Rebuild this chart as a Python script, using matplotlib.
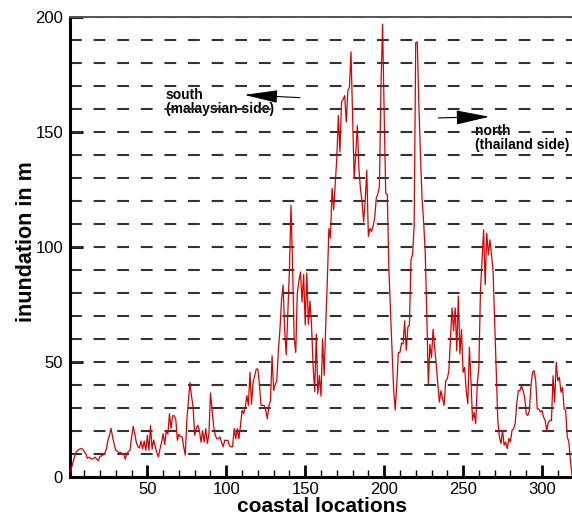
import numpy as np
import matplotlib
matplotlib.use('Agg')
import matplotlib.pyplot as plt

plt.rcParams['font.family'] = ['Liberation Sans', 'DejaVu Sans']
plt.rcParams['lines.scale_dashes'] = False

# inundation, one value per coastal location (1..319)
inundation = [
    2, 4, 6.5, 9, 10.8, 11.5, 12, 12.2, 12, 11,
    10, 8, 8.5, 8, 7.6, 8, 8.5, 7.5, 7, 8.9,
    9, 9.5, 10, 12, 15.8, 18, 21, 17.3, 14, 11.5,
    11, 10.5, 10.5, 10, 10, 7.6, 10, 11, 11.5, 17,
    21.9, 18.7, 15, 13, 12.5, 15.5, 12, 15.5, 11.5, 18,
    11.5, 22.3, 12, 16, 13, 10.5, 8.6, 12, 15, 18.7,
    14, 20, 18.5, 27.4, 21, 26.5, 26.5, 25, 15.8, 18.5,
    17.5, 17.3, 13, 9.4, 24.5, 33, 41, 35, 30, 18,
    21, 22.3, 20, 15, 20, 15, 20.9, 14.5, 18.5, 36.4,
    28.8, 22, 18, 16.5, 16.5, 17.3, 15, 13, 15.8, 15.8,
    15.8, 13.5, 13, 13, 20.9, 16.5, 20.9, 16.5, 22.3, 28.8,
    27.5, 30, 35.3, 31, 45.4, 31.5, 41, 44, 46.8, 46.8,
    40, 31, 31, 31, 28.8, 25.2, 31, 33, 52.6, 37.5,
    40, 41.8, 55, 64, 77, 83.3, 63.4, 53, 72, 90,
    118, 90.7, 60.5, 54, 80, 85, 89, 76, 88, 66,
    88.6, 66.3, 76.4, 66, 48, 37, 62, 36, 44, 35,
    60, 44, 66, 85, 108, 103.7, 125.4, 116, 127, 138.3,
    157, 141.2, 162.8, 164, 165.7, 154.2, 167.8, 169.3, 184.7, 158,
    129.7, 140, 152.7, 134, 125, 119.6, 110.9, 120, 133.3, 104.5,
    108, 106.6, 109, 112.4, 121, 123, 126.1, 170, 196.7, 158.5,
    123.2, 122.8, 90, 72, 55, 38, 29, 40, 54, 54,
    58, 57.7, 67.7, 55, 65, 66, 94.4, 96.5, 108.8, 188.7,
    189, 161.4, 140, 121, 110.9, 98, 71, 40.4, 57.6, 51.8,
    64.1, 56.2, 49, 40.3, 32.4, 37.4, 34, 31, 41.8, 42.5,
    46.1, 60, 73.4, 63.4, 73.4, 54.7, 78.5, 53.3, 64.1, 45.4,
    47.5, 37.4, 31.7, 56.2, 41.8, 24.5, 28, 23, 40.3, 47.5,
    80.7, 93.6, 107.3, 83.5, 105.9, 96.5, 103, 96.5, 89.3, 67.7,
    47.5, 24.5, 17.3, 14.4, 20.1, 13.7, 15.1, 12.2, 16.6, 15.1,
    20.1, 20.9, 23, 31.7, 37.4, 37.4, 39.6, 37.4, 34.6, 27.4,
    26.6, 28.8, 39.6, 45.4, 46.1, 41.8, 29.5, 29.5, 28.1, 28.8,
    25.9, 24.5, 20.1, 23.7, 24.5, 24.5, 43.9, 32.4, 49.7, 41.8,
    43.2, 36.7, 38.9, 29.5, 28.8, 17.3, 15.1, 7.2, 0.7,
]
locations = np.arange(1, len(inundation) + 1)

x_major = [50, 100, 150, 200, 250, 300]
x_minor = list(range(10, 320, 10))
y_major = [0, 50, 100, 150, 200]
grid_levels = list(range(10, 210, 10))

south_label = "south\n(malaysian side)"
north_label = "north\n(thailand side)"

fig = plt.figure(figsize=(5.72, 5.18), dpi=100)
ax = fig.add_axes([70 / 572, 41.3 / 518, 502 / 572, 460 / 518])

ax.plot(locations, inundation, color='#d80000', lw=0.9, zorder=3)
ax.set_xlim(1, 319)
ax.set_ylim(0, 200)

# dashed horizontal guide lines
for lvl in grid_levels:
    ax.axhline(lvl, color='#333333', lw=1.5, dashes=(8.5, 8.5), zorder=2)

ax.set_xticks(x_major)
ax.set_xticks(x_minor, minor=True)
ax.set_yticks(y_major)
ax.tick_params(axis='both', which='major', direction='in', length=9, width=2,
               labelsize=12, color='black')
ax.tick_params(axis='x', which='minor', direction='in', length=5, width=1)
ax.tick_params(axis='x', which='major', pad=4)
ax.tick_params(axis='y', which='major', pad=5)

ax.spines['left'].set_linewidth(2.2)
ax.spines['bottom'].set_linewidth(2.2)
ax.spines['top'].set_color('#555555')
ax.spines['top'].set_linewidth(1.4)
ax.spines['right'].set_visible(False)

ax.set_xlabel('coastal locations', fontsize=15, fontweight='bold')
ax.set_ylabel('inundation in m', fontsize=15.5, fontweight='bold')
ax.xaxis.set_label_coords(0.502, -0.044)
ax.yaxis.set_label_coords(-0.066, 0.51)

# direction arrows and notes
ax.text(61.6, 169, south_label, fontsize=10, fontweight='bold', va='top',
        ha='left', linespacing=1.0, zorder=1)
ax.annotate('', xy=(111.4, 166), xytext=(146.7, 164.8),
            arrowprops=dict(arrowstyle='-|>,head_length=2.1,head_width=0.4',
                            mutation_scale=10, lw=0.8, color='black',
                            shrinkA=0, shrinkB=0), zorder=4)

ax.text(257.6, 153.5, north_label, fontsize=10, fontweight='bold', va='top',
        ha='left', linespacing=1.0, zorder=1)
ax.annotate('', xy=(266.6, 156.5), xytext=(234.3, 156),
            arrowprops=dict(arrowstyle='-|>,head_length=2.1,head_width=0.45',
                            mutation_scale=10, lw=0.8, color='black',
                            shrinkA=0, shrinkB=0), zorder=4)

fig.savefig('out.png', dpi=100)
